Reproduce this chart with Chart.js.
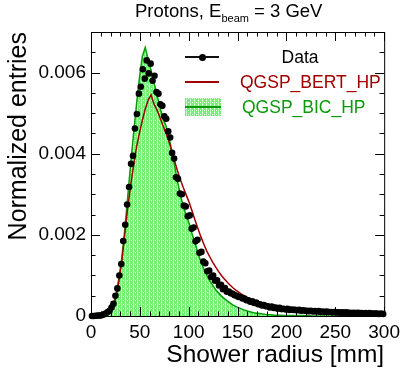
<!DOCTYPE html>
<html>
<head>
<meta charset="utf-8">
<script src="https://cdn.jsdelivr.net/npm/chart.js@4.4.0/dist/chart.umd.min.js"></script>
<style>
  body { margin: 0; background: #fff; font-family: "Liberation Sans", Arial, sans-serif; }
  #wrap { position: relative; width: 405px; height: 370px; }
  #chart { position: absolute; left: 0; top: 0; }
  .title { position: absolute; left: 135px; top: 1px; font-size: 18.5px; color: #000; white-space: nowrap; line-height: 20px; }
  .title sub { font-size: 11px; vertical-align: -5px; line-height: 0; }
  .leg-row { position: absolute; left: 185px; width: 190px; height: 20px; }
  .leg-sym { position: absolute; left: 0; top: 0; width: 34px; height: 20px; }
  .leg-txt { position: absolute; left: 55px; width: 120px; text-align: center; font-size: 17.5px; line-height: 20px; white-space: nowrap; }
</style>
</head>
<body>
<div id="wrap">
  <canvas id="chart" width="405" height="370"></canvas>
  <div class="title">Protons, E<sub>beam</sub> = 3 GeV</div>
  <div class="leg-row" style="top:47px">
    <div class="leg-sym">
      <div style="position:absolute;left:0;top:9px;width:34px;height:1.5px;background:#111"></div>
      <div style="position:absolute;left:14px;top:6.5px;width:7px;height:7px;border-radius:50%;background:#000"></div>
    </div>
    <div class="leg-txt" style="color:#000">Data</div>
  </div>
  <div class="leg-row" style="top:72px">
    <div class="leg-sym">
      <div style="position:absolute;left:0;top:9px;width:34px;height:2px;background:#a00000"></div>
    </div>
    <div class="leg-txt" style="color:#a00000">QGSP_BERT_HP</div>
  </div>
  <div class="leg-row" style="top:97px">
    <div class="leg-sym" id="bicSwatch" style="top:1px;height:18px;width:36px">
      <div style="position:absolute;left:0;top:8px;width:36px;height:2px;background:#0a9a0a"></div>
    </div>
    <div class="leg-txt" style="color:#0a9a0a;left:57px">QGSP_BIC_HP</div>
  </div>
</div>
<script>
// ===== DATA =====
// data: 2 mm bins of shower radius [mm]
const dataRadius = [
  1, 3, 5, 7, 9, 11, 13, 15, 17, 19,
  21, 23, 25, 27, 29, 31, 33, 35, 37, 39,
  41, 43, 45, 47, 49, 51, 53, 55, 57, 59,
  61, 63, 65, 67, 69, 71, 73, 75, 77, 79,
  81, 83, 85, 87, 89, 91, 93, 95, 97, 99,
  101, 103, 105, 107, 109, 111, 113, 115, 117, 119,
  121, 123, 125, 127, 129, 131, 133, 135, 137, 139,
  141, 143, 145, 147, 149, 151, 153, 155, 157, 159,
  161, 163, 165, 167, 169, 171, 173, 175, 177, 179,
  181, 183, 185, 187, 189, 191, 193, 195, 197, 199,
  201, 203, 205, 207, 209, 211, 213, 215, 217, 219,
  221, 223, 225, 227, 229, 231, 233, 235, 237, 239,
  241, 243, 245, 247, 249, 251, 253, 255, 257, 259,
  261, 263, 265, 267, 269, 271, 273, 275, 277, 279,
  281, 283, 285, 287, 289, 291, 293, 295, 297, 299
];

const dataValues = [
  0, 0, 0.000005, 0.00001, 0.00001, 0.00002, 0.00004, 0.00006, 0.00010, 0.00013,
  0.00021, 0.00030, 0.00050, 0.00068, 0.00100, 0.00128, 0.00185, 0.00225, 0.00275, 0.00318,
  0.00375, 0.00395, 0.00462, 0.00498, 0.00548, 0.00565, 0.00608, 0.00585, 0.00630, 0.00598,
  0.00622, 0.00580, 0.00592, 0.00552, 0.00548, 0.00522, 0.00518, 0.00492, 0.00486, 0.00455,
  0.00440, 0.00402, 0.00388, 0.00342, 0.00338, 0.00302, 0.00300, 0.00272, 0.00270, 0.00246,
  0.00248, 0.00215, 0.00218, 0.00184, 0.00188, 0.00156, 0.00158, 0.00134, 0.00130, 0.00110,
  0.00112, 0.00096, 0.00100, 0.00087, 0.00088, 0.00075, 0.00077, 0.00066, 0.00069, 0.00060,
  0.00060, 0.00056, 0.00055, 0.00051, 0.00050, 0.00047, 0.00047, 0.00043, 0.00043, 0.00039,
  0.00039, 0.00035, 0.00036, 0.00032, 0.00033, 0.00029, 0.00029, 0.00026, 0.00027, 0.00024,
  0.00024, 0.00021, 0.00023, 0.00020, 0.00021, 0.00018, 0.00020, 0.00017, 0.00018, 0.00016,
  0.00018, 0.00015, 0.00016, 0.00015, 0.00015, 0.00014, 0.00015, 0.00013, 0.00014, 0.00013,
  0.00013, 0.00012, 0.00013, 0.00011, 0.00012, 0.00011, 0.00012, 0.00010, 0.00011, 0.00010,
  0.00011, 0.00010, 0.00010, 0.00009, 0.00010, 0.00009, 0.00009, 0.00008, 0.00009, 0.00008,
  0.00009, 0.00008, 0.00008, 0.00007, 0.00008, 0.00007, 0.00008, 0.00007, 0.00007, 0.00006,
  0.00007, 0.00006, 0.00007, 0.00006, 0.00006, 0.00006, 0.00006, 0.00005, 0.00006, 0.00005
];

// simulations: 3 mm bins
const modelRadius = [
  1.5, 4.5, 7.5, 10.5, 13.5, 16.5, 19.5, 22.5, 25.5, 28.5,
  31.5, 34.5, 37.5, 40.5, 43.5, 46.5, 49.5, 52.5, 55.5, 58.5,
  61.5, 64.5, 67.5, 70.5, 73.5, 76.5, 79.5, 82.5, 85.5, 88.5,
  91.5, 94.5, 97.5, 100.5, 103.5, 106.5, 109.5, 112.5, 115.5, 118.5,
  121.5, 124.5, 127.5, 130.5, 133.5, 136.5, 139.5, 142.5, 145.5, 148.5,
  151.5, 154.5, 157.5, 160.5, 163.5, 166.5, 169.5, 172.5, 175.5, 178.5,
  181.5, 184.5, 187.5, 190.5, 193.5, 196.5, 199.5, 202.5, 205.5, 208.5,
  211.5, 214.5, 217.5, 220.5, 223.5, 226.5, 229.5, 232.5, 235.5, 238.5,
  241.5, 244.5, 247.5, 250.5, 253.5, 256.5, 259.5, 262.5, 265.5, 268.5,
  271.5, 274.5, 277.5, 280.5, 283.5, 286.5, 289.5, 292.5, 295.5, 298.5
];

const bertValues = [
  0, 0, 0, 0.00001, 0.00002, 0.00005, 0.00010, 0.00022, 0.00045, 0.00085,
  0.00135, 0.00200, 0.00265, 0.00320, 0.00370, 0.00415, 0.00450, 0.00482, 0.00510, 0.00532,
  0.00545, 0.00522, 0.00508, 0.00490, 0.00470, 0.00452, 0.00432, 0.00408, 0.00382, 0.00358,
  0.00336, 0.00316, 0.00298, 0.00280, 0.00258, 0.00236, 0.00215, 0.00195, 0.00177, 0.00160,
  0.00146, 0.00133, 0.00121, 0.00110, 0.00100, 0.00091, 0.00083, 0.00076, 0.00069, 0.00063,
  0.00058, 0.00053, 0.00049, 0.00045, 0.00041, 0.00038, 0.00035, 0.00032, 0.00030, 0.00028,
  0.00026, 0.00024, 0.00022, 0.00020, 0.00019, 0.00018, 0.00017, 0.00016, 0.00015, 0.00014,
  0.00014, 0.00013, 0.00012, 0.00012, 0.00011, 0.00011, 0.00010, 0.00010, 0.00009, 0.00009,
  0.00009, 0.00008, 0.00008, 0.00008, 0.00007, 0.00007, 0.00007, 0.00006, 0.00006, 0.00006,
  0.00006, 0.00005, 0.00005, 0.00005, 0.00005, 0.00005, 0.00004, 0.00004, 0.00004, 0.00004
];

const bicValues = [
  0, 0, 0, 0.00001, 0.00003, 0.00007, 0.00014, 0.00027, 0.00052, 0.00092,
  0.00142, 0.00212, 0.00292, 0.00372, 0.00448, 0.00520, 0.00585, 0.00640, 0.00662, 0.00632,
  0.00605, 0.00575, 0.00545, 0.00515, 0.00488, 0.00470, 0.00445, 0.00408, 0.00372, 0.00332,
  0.00298, 0.00270, 0.00248, 0.00228, 0.00202, 0.00180, 0.00155, 0.00133, 0.00116, 0.00100,
  0.00087, 0.00076, 0.00065, 0.00057, 0.00049, 0.00043, 0.00037, 0.00032, 0.00027, 0.00023,
  0.00020, 0.00017, 0.00014, 0.00012, 0.00010, 0.00008, 0.00007, 0.00006, 0.00005, 0.00004,
  0.00003, 0.00003, 0.00002, 0.00002, 0.00002, 0.00001, 0.00001, 0.00001, 0.00001, 0.00001,
  0.00001, 0.00001, 0.00001, 0.00001, 0.00001, 0, 0, 0, 0, 0,
  0, 0, 0, 0, 0, 0, 0, 0, 0, 0,
  0, 0, 0, 0, 0, 0, 0, 0, 0, 0
];

const xTicks = [0, 50, 100, 150, 200, 250, 300];
const yTicks = [0, 0.002, 0.004, 0.006];
const yTickLabels = ['0', '0.002', '0.004', '0.006'];

// ===== STYLE =====
const FONT = '"Liberation Sans", Arial, sans-serif';
const RED = '#a00000';
const GREEN = '#0a9a0a';

function makeHatch() {
    const c = document.createElement('canvas');
    c.width = 4;
    c.height = 4;
    const g = c.getContext('2d');
    g.fillStyle = '#74f074';
    g.fillRect(0, 0, 4, 4);
    g.fillStyle = '#b4f8b4';
    g.fillRect(1, 0, 1, 4);
    g.fillStyle = '#ffffff';
    g.fillRect(1, 2, 1, 1);
    g.fillRect(3, 0, 1, 1);
    return c;
}

const hatchCanvas = makeHatch();
const ctx = document.getElementById('chart').getContext('2d');
const hatch = ctx.createPattern(hatchCanvas, 'repeat');
document.getElementById('bicSwatch').style.backgroundImage = 'url(' + hatchCanvas.toDataURL() + ')';

function toPoints(xs, values) {
    return values.map((v, i) => ({ x: xs[i], y: v }));
}

// frame with ROOT-style inward ticks on all four sides
const frameTicks = {
    id: 'frameTicks',
    afterDraw(chart) {
        const { ctx, chartArea: a, scales: { x, y } } = chart;
        ctx.save();
        ctx.strokeStyle = '#000';
        ctx.lineWidth = 1;
        ctx.strokeRect(a.left + 0.5, a.top + 0.5, a.right - a.left, a.bottom - a.top);
        ctx.beginPath();
        for (let v = 0; v <= 300; v += 10) {
            const px = Math.round(x.getPixelForValue(v)) + 0.5;
            const len = v % 50 === 0 ? 9 : 4.5;
            ctx.moveTo(px, a.bottom);
            ctx.lineTo(px, a.bottom - len);
            ctx.moveTo(px, a.top);
            ctx.lineTo(px, a.top + len);
        }
        for (let v = 0; v <= 0.007 + 1e-9; v += 0.0005) {
            const py = Math.round(y.getPixelForValue(v)) + 0.5;
            const major = Math.abs(v / 0.002 - Math.round(v / 0.002)) < 1e-6;
            const len = major ? 9 : 4.5;
            ctx.moveTo(a.left, py);
            ctx.lineTo(a.left + len, py);
            ctx.moveTo(a.right, py);
            ctx.lineTo(a.right - len, py);
        }
        ctx.stroke();
        ctx.restore();
    }
};

new Chart(ctx, {
    type: 'line',
    data: {
        datasets: [{
            label: 'Data',
            data: toPoints(dataRadius, dataValues),
            showLine: false,
            pointRadius: 3.3,
            pointBackgroundColor: '#000',
            pointBorderWidth: 0,
            clip: 6,
            order: 0
        }, {
            label: 'QGSP_BERT_HP',
            data: toPoints(modelRadius, bertValues),
            borderColor: RED,
            borderWidth: 1.5,
            pointRadius: 0,
            fill: false,
            order: 1
        }, {
            label: 'QGSP_BIC_HP',
            data: toPoints(modelRadius, bicValues),
            borderColor: GREEN,
            borderWidth: 1.5,
            backgroundColor: hatch,
            pointRadius: 0,
            fill: 'origin',
            order: 2
        }]
    },
    options: {
        responsive: false,
        animation: false,
        layout: { padding: { top: 32, right: 19, left: 0, bottom: 0 } },
        plugins: {
            legend: { display: false },
            tooltip: { enabled: false }
        },
        scales: {
            x: {
                type: 'linear',
                min: 0,
                max: 300,
                grid: { display: false, drawTicks: false },
                border: { display: false },
                afterBuildTicks: s => { s.ticks = xTicks.map(v => ({ value: v })); },
                afterFit: s => { s.height = 54; },
                ticks: {
                    font: { size: 19, family: FONT },
                    color: '#000',
                    padding: 5,
                    maxRotation: 0,
                    autoSkip: false
                },
                title: {
                    display: true,
                    text: 'Shower radius [mm]',
                    align: 'end',
                    color: '#000',
                    font: { size: 24.5, family: FONT },
                    padding: { top: 0, bottom: 0 }
                }
            },
            y: {
                type: 'linear',
                min: 0,
                max: 0.007,
                grid: { display: false, drawTicks: false },
                border: { display: false },
                afterBuildTicks: s => { s.ticks = yTicks.map(v => ({ value: v })); },
                afterFit: s => { s.width = 91; },
                ticks: {
                    font: { size: 19, family: FONT },
                    color: '#000',
                    padding: 5,
                    autoSkip: false,
                    callback: (v, i) => yTickLabels[i]
                },
                title: {
                    display: true,
                    text: 'Normalized entries',
                    align: 'end',
                    color: '#000',
                    font: { size: 25, family: FONT },
                    padding: { top: 4, bottom: 0 }
                }
            }
        }
    },
    plugins: [frameTicks]
});
</script>
</body>
</html>
